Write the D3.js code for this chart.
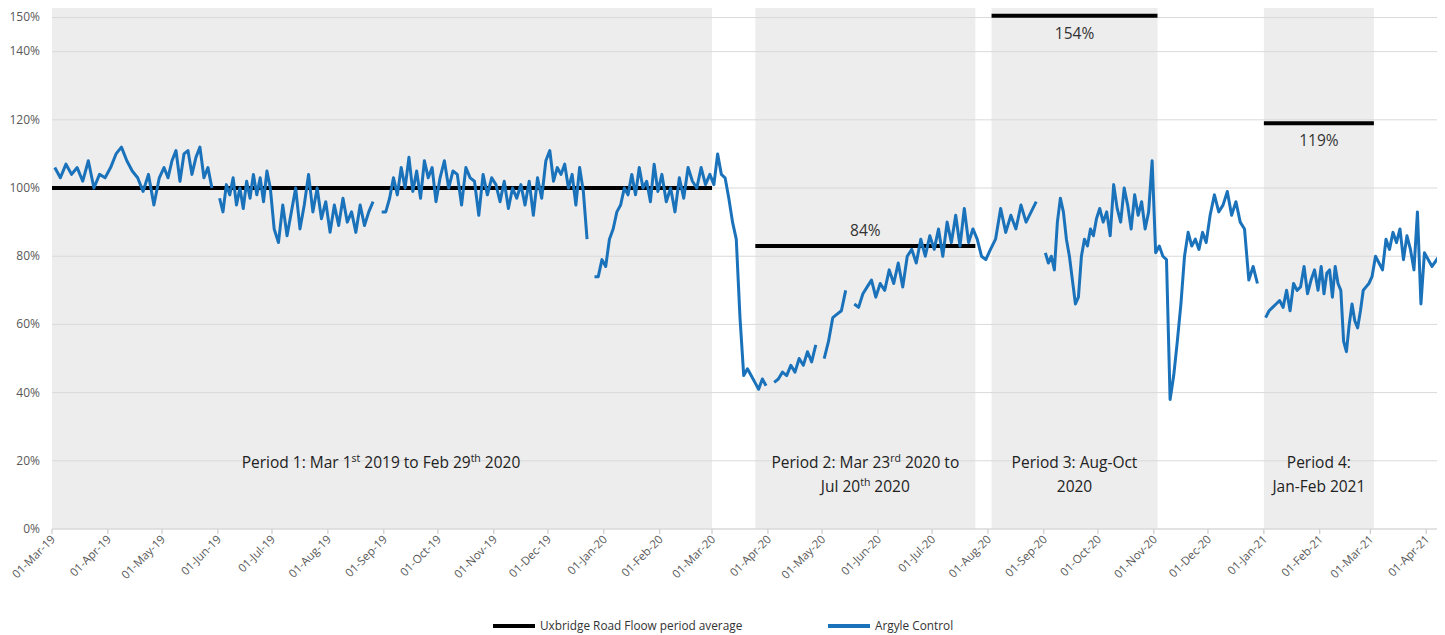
<!DOCTYPE html><html><head><meta charset="utf-8"><script src="https://cdn.jsdelivr.net/npm/d3@7"></script>
<style>body{margin:0;background:#fff;font-family:"Open Sans",sans-serif}</style></head><body><svg id="c" width="1445" height="635"></svg>
<script>
const yTicks=[0,20,40,60,80,100,120,140,150];
const monthStarts=["2019-03","2019-04","2019-05","2019-06","2019-07","2019-08","2019-09","2019-10","2019-11","2019-12","2020-01","2020-02","2020-03","2020-04","2020-05","2020-06","2020-07","2020-08","2020-09","2020-10","2020-11","2020-12","2021-01","2021-02","2021-03","2021-04"];
const monthValues=[
[106,103,107,104,106,102,108,100,104,103],
[106,110,112,108,105,103,99,104,95,103],
[106,103,108,111,102,110,111,104,109,112,103,106,100,null],
[97,93,101,98,103,95,100,94,102,97,104,98,103,96,105,100],
[88,84,95,86,93,100,88,95,104,93,100,91,96],
[87,95,89,97,90,93,87,95,89,93,96,null,93],
[93,97,103,98,106,100,109,99,105,97,108,103,106,96],
[103,108,100,105,104,95,106,103,102,92,104,98,103],
[101,96,102,94,100,97,101,95,102,92,103,97,108],
[111,102,106,104,107,100,104,95,106,99,85,null,74,74,79],
[77,85,88,93,95,100,98,104,98,106,100,102,96,107,99],
[104,96,100,93,103,97,106,102,100,106,101,104],
[101,110,104,103,97,90,85,62,45,47,45,43,41,44,42],
[null,43,44,46,45,48,46,50,48,52,49,54,null],
[50,55,62,63,64,70,null,66,65,69,71,73,68],
[72,70,76,72,78,71,80,82,78,85,80,86],
[82,88,80,90,84,92,83,94,84,88,85,80,79],
[82,85,94,87,92,88,95,90,93,96,null],
[81,78,80,76,90,97,93,85,80,73,66,68,80,85,83,88,86,91],
[94,90,93,86,101,94,90,100,95,88,98,92,96,88,93,108],
[81,83,80,79,38,45,55,66,80,87,83,85,82,87,84],
[92,98,93,95,99,92,96,90,88,73,77,72,null],
[62,64,65,66,67,65,70,64,72,70,71,77,69,73,76,70],
[77,69,75,76,68,77,72,70,55,52,60,66,61,59,64,70,71,72],
[74,80,78,76,85,82,87,84,88,79,86,82,76,93,66,81],
[77,82]];
const periods=[["2019-03-01","2020-03-01",100,"100%"],["2020-03-25","2020-07-25",83,"84%"],["2020-08-03","2020-11-03",154,"154%"],["2021-01-01","2021-03-03",119,"119%"]];
const periodLabels=[["Period 1: Mar 1","st"," 2019 to Feb 29","th"," 2020"],["Period 2: Mar 23","rd"," 2020 to"],["Period 3: Aug-Oct"],["Period 4:"]];
const periodLabels2=["","Jul 20th 2020","2020","Jan-Feb 2021"];

const p=d3.timeParse("%Y-%m-%d"),pm=d3.timeParse("%Y-%m");
const svg=d3.select("#c");
const x=d3.scaleTime().domain([p("2019-03-01"),p("2021-04-07")]).range([52,1437]);
const y=d3.scaleLinear().domain([0,152.8]).range([529,8]);
const pts=[];
monthValues.forEach((vals,i)=>{const s=pm(monthStarts[i]);const e=i+1<monthStarts.length?pm(monthStarts[i+1]):p("2021-04-14");
 const len=(e-s);vals.forEach((v,j)=>pts.push({d:new Date(+s+len*(j+0.5)/vals.length),v}));});
svg.selectAll(".sh").data(periods).join("rect").attr("x",d=>x(p(d[0]))).attr("width",d=>x(p(d[1]))-x(p(d[0])))
 .attr("y",8).attr("height",521).attr("fill","#ededed");
svg.selectAll(".g").data(yTicks).join("line").attr("x1",52).attr("x2",1437).attr("y1",d=>y(d)).attr("y2",d=>y(d)).attr("stroke","#d9d9d9");
svg.selectAll(".yl").data(yTicks).join("text").attr("x",40).attr("y",d=>y(d)+(d>=140?3:4)).attr("text-anchor","end").attr("font-size",12).attr("fill","#595959").text(d=>d+"%");
const ticks=monthStarts.map(m=>pm(m));
svg.selectAll(".xt").data(ticks).join("line").attr("x1",d=>x(d)).attr("x2",d=>x(d)).attr("y1",529).attr("y2",534).attr("stroke","#bfbfbf");
svg.append("line").attr("x1",52).attr("x2",1437).attr("y1",529).attr("y2",529).attr("stroke","#d9d9d9");
svg.selectAll(".xl").data(ticks).join("text").attr("transform",d=>`translate(${x(d)+4},${540}) rotate(-45)`).attr("text-anchor","end").attr("font-size",11.5).attr("fill","#595959").text(d3.timeFormat("01-%b-%y"));
svg.selectAll(".pa").data(periods).join("line").attr("x1",d=>x(p(d[0]))).attr("x2",d=>x(p(d[1]))).attr("y1",d=>y(Math.min(d[2],150.5))).attr("y2",d=>y(Math.min(d[2],150.5))).attr("stroke","#000").attr("stroke-width",4);
svg.append("defs").append("clipPath").attr("id","cp").append("rect").attr("x",52).attr("y",0).attr("width",1385).attr("height",635);
svg.append("path").datum(pts).attr("clip-path","url(#cp)").attr("fill","none").attr("stroke","#1a72bb").attr("stroke-width",3).attr("stroke-linejoin","round")
 .attr("d",d3.line().defined(d=>d.v!=null).x(d=>x(d.d)).y(d=>y(d.v)));
svg.selectAll(".pt").data(periods.slice(1)).join("text").attr("x",d=>(x(p(d[0]))+x(p(d[1])))/2).attr("y",d=>y(Math.min(d[2],150.5))+(d[2]>100?23:-10)).attr("text-anchor","middle").attr("font-size",15.5).attr("fill","#333").text(d=>d[3]);
periods.forEach((d,i)=>{const cx=i==0?381:(x(p(d[0]))+x(p(d[1])))/2;
 const t=svg.append("text").attr("x",cx).attr("y",468).attr("text-anchor","middle").attr("font-size",15.5).attr("fill","#222");
 periodLabels[i].forEach((s,k)=>{t.append("tspan").attr("font-size",k%2?10.5:15.5).attr("dy",k%2?-6:(k>0?6:0)).text(s);});
 if(periodLabels2[i]){const t2=svg.append("text").attr("x",cx).attr("y",492).attr("text-anchor","middle").attr("font-size",15.5).attr("fill","#222");
  if(i==1){t2.append("tspan").text("Jul 20");t2.append("tspan").attr("font-size",10.5).attr("dy",-6).text("th");t2.append("tspan").attr("dy",6).text(" 2020");}else t2.text(periodLabels2[i]);}
});
const lg=[[493,"#000","Uxbridge Road Floow period average"],[828,"#1a72bb","Argyle Control"]];
lg.forEach(([lx,c,t])=>{svg.append("line").attr("x1",lx).attr("x2",lx+42).attr("y1",626).attr("y2",626).attr("stroke",c).attr("stroke-width",4);
 svg.append("text").attr("x",lx+47).attr("y",630).attr("font-size",11.8).attr("fill","#333").text(t);});
</script></body></html>
